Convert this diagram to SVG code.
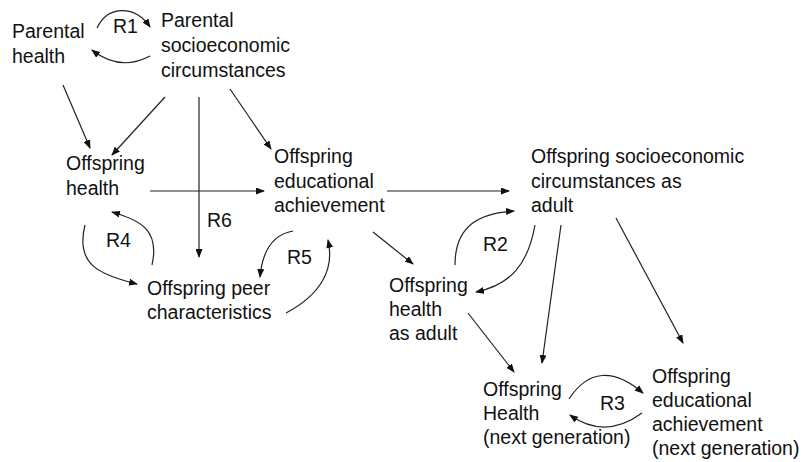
<svg xmlns="http://www.w3.org/2000/svg" width="802" height="462" viewBox="0 0 802 462">
<style>
text{font-family:"Liberation Sans",Arial,sans-serif;font-size:19.5px;fill:#111}
.c{fill:none;stroke:#222;stroke-width:1.2;marker-end:url(#ah)}
</style>
<defs>
<marker id="ah" markerUnits="userSpaceOnUse" markerWidth="9" markerHeight="7" refX="8" refY="3.5" orient="auto" viewBox="0 0 9 7">
<path d="M0,0 L9,3.5 L0,7 z" fill="#111"/>
</marker>
</defs>
<rect width="802" height="462" fill="#fff"/>
<g id="connectors">
<path class="c" d="M63,85 L90,148"/>
<path class="c" d="M165,97 L112,155"/>
<path class="c" d="M199,97 L199,257"/>
<path class="c" d="M230,89 L271,149"/>
<path class="c" d="M150,191 L264,191"/>
<path class="c" d="M387,191 L509,191"/>
<path class="c" d="M373,232 L413,264"/>
<path class="c" d="M455,265 C455,225 480,213 514,211"/>
<path class="c" d="M535,225 C528,265 510,285 476,292"/>
<path class="c" d="M561,225 L542,363"/>
<path class="c" d="M616,218 L683,343"/>
<path class="c" d="M468,313 L514,372"/>
<path class="c" d="M569,399 Q598,355 643,393"/>
<path class="c" d="M642,413 Q605,440 570,415"/>
<path class="c" d="M97,28 C108,5 135,5 150,27"/>
<path class="c" d="M150,56 Q120,72 92,50"/>
<path class="c" d="M85,225 C75,265 100,275 137,284"/>
<path class="c" d="M152,265 C160,230 140,220 112,212"/>
<path class="c" d="M293,231 C270,235 262,255 260,277"/>
<path class="c" d="M286,313 C320,295 335,270 328,240"/>
</g>
<g id="labels">
<text x="113" y="33">R1</text>
<text x="483" y="251">R2</text>
<text x="600" y="410">R3</text>
<text x="106" y="247">R4</text>
<text x="287" y="264">R5</text>
<text x="207" y="227">R6</text>
</g>
<g id="parental-health"><text x="12"><tspan x="12" y="38">Parental</tspan><tspan x="12" y="63">health</tspan></text></g>
<g id="parental-sec"><text><tspan x="161" y="27">Parental</tspan><tspan x="161" y="52">socioeconomic</tspan><tspan x="161" y="77">circumstances</tspan></text></g>
<g id="offspring-health"><text><tspan x="66" y="170">Offspring</tspan><tspan x="66" y="195">health</tspan></text></g>
<g id="offspring-edu"><text><tspan x="274" y="163">Offspring</tspan><tspan x="274" y="188">educational</tspan><tspan x="274" y="212">achievement</tspan></text></g>
<g id="offspring-peer"><text><tspan x="147" y="295">Offspring peer</tspan><tspan x="147" y="319">characteristics</tspan></text></g>
<g id="offspring-sec-adult"><text><tspan x="531" y="163">Offspring socioeconomic</tspan><tspan x="531" y="188">circumstances as</tspan><tspan x="531" y="212">adult</tspan></text></g>
<g id="offspring-health-adult"><text><tspan x="389" y="292">Offspring</tspan><tspan x="389" y="316">health</tspan><tspan x="389" y="340">as adult</tspan></text></g>
<g id="health-next"><text><tspan x="483" y="396">Offspring</tspan><tspan x="483" y="420">Health</tspan><tspan x="483" y="444">(next generation)</tspan></text></g>
<g id="edu-next"><text><tspan x="652" y="383">Offspring</tspan><tspan x="652" y="407">educational</tspan><tspan x="652" y="431">achievement</tspan><tspan x="652" y="455">(next generation)</tspan></text></g>
</svg>
